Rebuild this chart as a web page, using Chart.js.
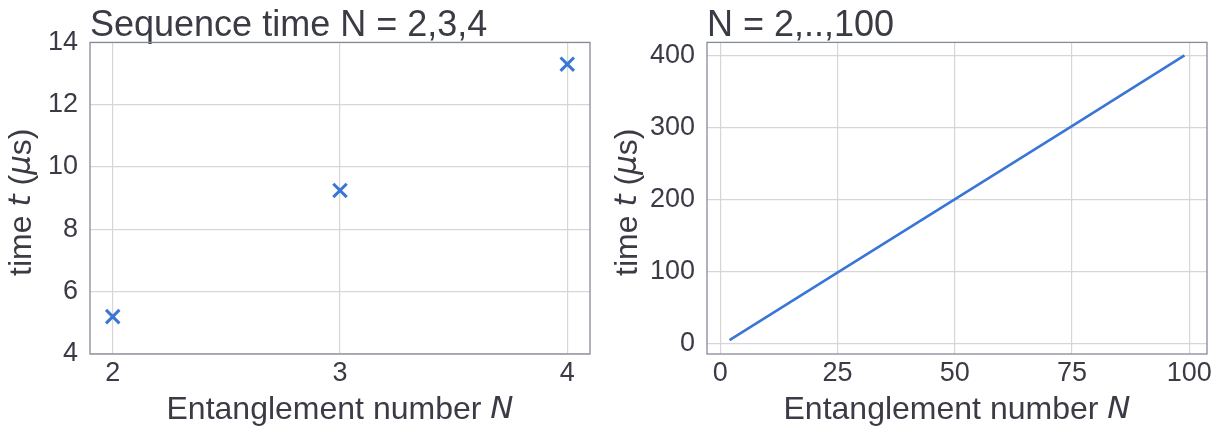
<!DOCTYPE html>
<html>
<head>
<meta charset="utf-8">
<script src="https://cdn.jsdelivr.net/npm/chart.js@4/dist/chart.umd.min.js"></script>
<style>
  html, body { margin: 0; padding: 0; background: #fff; }
  #wrap { position: relative; width: 1224px; height: 432px; }
  .box { position: absolute; top: 0; width: 612px; height: 432px; }
</style>
</head>
<body>
<div id="wrap">
  <div class="box" style="left:0"><canvas id="left"></canvas></div>
  <div class="box" style="left:612px"><canvas id="right"></canvas></div>
</div>
<script>
// data
const seqN = [2, 3, 4];
const seqTime = [5.2, 9.25, 13.3];
const seqXTicks = [2, 3, 4];
const seqYTicks = [4, 6, 8, 10, 12, 14];

const allN = [2, 25, 50, 75, 99];
const allTime = [5.2, 98.8, 200.5, 302, 400];
const allXTicks = [0, 25, 50, 75, 100];
const allYTicks = [0, 100, 200, 300, 400];

const FONT = "'Liberation Sans', Arial, Helvetica, sans-serif";
const MATH = "'DejaVu Sans', sans-serif";
const TEXT = "#3b3b45";
const BLUE = "#3a77d5";
const GRID = "#d6d6d6";
const FRAME = "#868b98";

// axis titles with italic parts (mathtext style), plus the frame box
const labelsPlugin = {
    id: "labels",
    afterDraw(chart, args, opts) {
        const { ctx, chartArea: a } = chart;
        ctx.save();
        ctx.strokeStyle = FRAME;
        ctx.lineWidth = 1.3;
        ctx.strokeRect(a.left, a.top, a.right - a.left, a.bottom - a.top);
        ctx.fillStyle = TEXT;
        ctx.textBaseline = "middle";
        drawParts(ctx, opts.xParts, (a.left + a.right) / 2, opts.xY, 0);
        drawParts(ctx, opts.yParts, opts.yX, (a.top + a.bottom) / 2 + 4, -Math.PI / 2);
        ctx.restore();
    },
};

function drawParts(ctx, parts, cx, cy, rot) {
    const size = 32;
    // italic bits are mathtext, drawn in DejaVu oblique
    const fonts = parts.map((p) =>
        p[1] ? "italic " + (size - 1) + "px " + MATH : size + "px " + FONT
    );
    let total = 0;
    const widths = parts.map((p, i) => {
        ctx.font = fonts[i];
        const w = ctx.measureText(p[0]).width;
        total += w;
        return w;
    });
    ctx.save();
    ctx.translate(cx, cy);
    ctx.rotate(rot);
    ctx.textAlign = "left";
    let x = -total / 2;
    parts.forEach((p, i) => {
        ctx.font = fonts[i];
        ctx.fillText(p[0], x, 0);
        x += widths[i];
    });
    ctx.restore();
}

function makeScale(min, max, ticks, isX, size) {
    return {
        type: "linear",
        min: min,
        max: max,
        afterBuildTicks(scale) {
            scale.ticks = ticks.map((v) => ({ value: v }));
        },
        afterFit(scale) {
            if (isX) scale.height = size;
            else scale.width = size;
        },
        grid: { color: GRID, lineWidth: 1.2, drawTicks: false },
        border: { display: false },
        ticks: {
            color: TEXT,
            font: { family: FONT, size: 27 },
            padding: isX ? 3 : 12,
            autoSkip: false,
            maxRotation: 0,
        },
    };
}

function baseOptions(title, xScale, yScale, padRight, yLabelX) {
    return {
        responsive: false,
        animation: false,
        layout: { padding: { left: 0, right: padRight, top: 0, bottom: 0 } },
        scales: { x: xScale, y: yScale },
        plugins: {
            legend: { display: false },
            tooltip: { enabled: false },
            title: {
                display: true,
                text: title,
                align: "start",
                fullSize: false,
                color: TEXT,
                font: { family: FONT, size: 36, weight: "normal", lineHeight: 0.9 },
                padding: { top: 10, bottom: 0 },
            },
            labels: {
                xParts: [["Entanglement number ", false], ["N", true]],
                yParts: [["time ", false], ["t", true], [" (", false], ["\u03bc", true], ["s)", false]],
                xY: 410,
                yX: yLabelX,
            },
        },
    };
}

function sizeCanvas(id) {
    const c = document.getElementById(id);
    c.width = 612;
    c.height = 432;
    c.style.width = "612px";
    c.style.height = "432px";
    return c;
}

// left: N = 2,3,4
new Chart(sizeCanvas("left"), {
    type: "scatter",
    data: {
        datasets: [
            {
                data: seqN.map((n, i) => ({ x: n, y: seqTime[i] })),
                pointStyle: "crossRot",
                pointRadius: 9.5,
                borderColor: BLUE,
                backgroundColor: BLUE,
                pointBorderWidth: 3,
            },
        ],
    },
    options: baseOptions(
        "Sequence time N = 2,3,4",
        makeScale(1.9, 4.1, seqXTicks, true, 78),
        makeScale(4, 14, seqYTicks, false, 90),
        22,
        22
    ),
    plugins: [labelsPlugin],
});

// right: N = 2..100
new Chart(sizeCanvas("right"), {
    type: "line",
    data: {
        datasets: [
            {
                data: allN.map((n, i) => ({ x: n, y: allTime[i] })),
                borderColor: BLUE,
                borderWidth: 2.6,
                pointRadius: 0,
                tension: 0,
                fill: false,
            },
        ],
    },
    options: baseOptions(
        "N = 2,..,100",
        makeScale(-2.8, 103.8, allXTicks, true, 78),
        makeScale(-14, 418, allYTicks, false, 95),
        17,
        16
    ),
    plugins: [labelsPlugin],
});
</script>
</body>
</html>
